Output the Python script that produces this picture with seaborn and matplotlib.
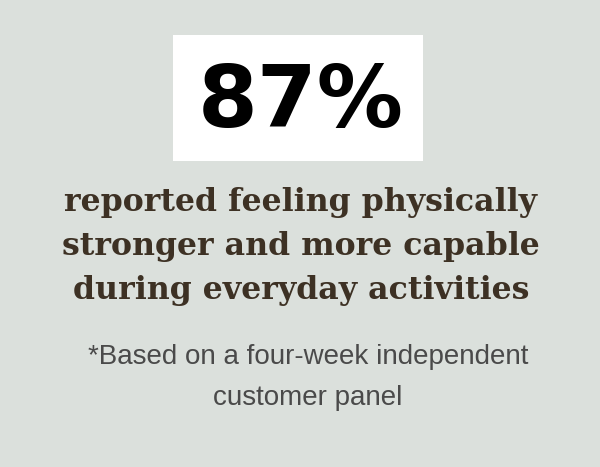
import seaborn as sns
import matplotlib.pyplot as plt
from matplotlib.patches import Rectangle

# chart content
stat_value = "87%"
headline_lines = ["reported feeling physically",
                  "stronger and more capable",
                  "during everyday activities"]
footnote_lines = ["*Based on a four-week independent",
                  "customer panel"]

bg = "#dbe0dc"
sns.set_theme(style="white", rc={"figure.facecolor": bg, "axes.facecolor": bg})

fig, ax = plt.subplots(figsize=(6, 4.67), dpi=100)
fig.subplots_adjust(0, 0, 1, 1)
ax.set_xlim(0, 600)
ax.set_ylim(467, 0)
ax.axis("off")

# white box behind the number
ax.add_patch(Rectangle((173, 35), 250, 126, facecolor="white", edgecolor="none"))
ax.text(301, 104, stat_value, ha="center", va="center", color="black",
        fontsize=62, fontweight="bold", family="DejaVu Sans")

for i, line in enumerate(headline_lines):
    ax.text(301, 202 + i * 44, line, ha="center", va="center", color="#3d3124",
            fontsize=22.8, fontweight="bold", family="DejaVu Serif")

for i, line in enumerate(footnote_lines):
    ax.text(308, 357 + i * 41, line, ha="center", va="center", color="#4a4a4a",
            fontsize=20, family="Liberation Sans")

plt.savefig("out.png", dpi=100, facecolor=bg)
